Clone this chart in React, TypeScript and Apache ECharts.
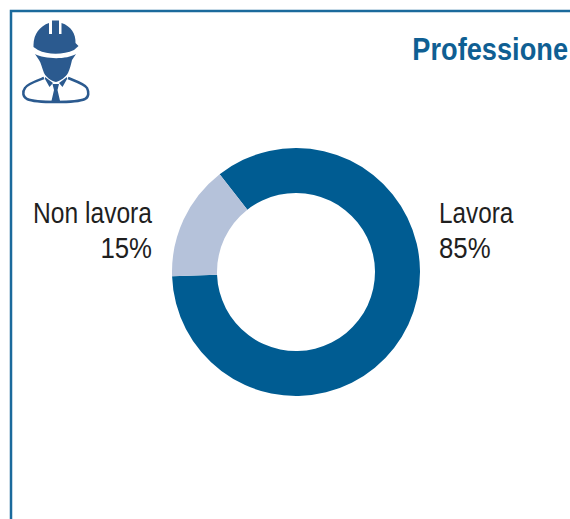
import React, { useEffect, useRef } from "react";
import * as echarts from "echarts";

const categories = ["Lavora", "Non lavora"];
const values = [85, 15];
const colors = ["#005c92", "#b5c2da"];
const titleText = "Professione";

const HELMET =
  "M33.5 45 C33.5 34 40 26 49 23 L49 34 L52 34 L52 20.5 L59 20.5 L59 34 L61.5 34 L61.5 23 C71 26 76 34 75.5 43 L78.5 46 L74 50 C63 55 48 55 38 50 L33.5 47 Z";
const FACE =
  "M35 54 C44 59 66 60 76 54 L72 60 C71 64 70 69 68 73 C66 77 60 81 56 82 C51 81 46 77 44 73 C42 68 41 63 39 60 Z";
const TIE = "M52.5 84 L59 84 L57.5 90 L60.5 103 L51 103 L54 90 Z";
const COLLAR =
  "M45 77 L53 83 L49.5 87 L45 79 Z M67 77 L59 83 L62.5 87 L67 79 Z";
const BODY =
  "M44 78 C36 81 27 84 25 88 C22 92 23 97 27 99 C36 103 76 103 85 99 C89 97 89 92 87 88 C85 84 75 81 68 78";

echarts.graphic.registerShape("helmet", echarts.graphic.extendPath(HELMET, {}));
echarts.graphic.registerShape("face", echarts.graphic.extendPath(FACE, {}));
echarts.graphic.registerShape("tie", echarts.graphic.extendPath(TIE, {}));
echarts.graphic.registerShape("collar", echarts.graphic.extendPath(COLLAR, {}));
echarts.graphic.registerShape("body", echarts.graphic.extendPath(BODY, {}));

const FONT = '"Liberation Sans", sans-serif';
const ICON = "#2b5a8f";
const FRAME = "#1b6a9c";

const textLine = (text: string, x: number, y: number, align: string, scaleX: number) => ({
  type: "text",
  x,
  y,
  scaleX,
  style: {
    text,
    align,
    verticalAlign: "middle",
    font: `30px ${FONT}`,
    fill: "#1f1f1f",
  },
});

export default function App() {
  const ref = useRef<HTMLDivElement>(null);
  useEffect(() => {
    const chart = echarts.init(ref.current!, undefined, { renderer: "svg" });
    chart.setOption({
      animation: false,
      backgroundColor: "#ffffff",
      series: [
        {
          type: "pie",
          center: [296, 272],
          radius: [79, 124],
          startAngle: 128,
          clockwise: true,
          silent: true,
          color: colors,
          data: categories.map((name, i) => ({ name, value: values[i] })),
          labelLine: { show: false },
          label: { show: false },
        },
      ],
      graphic: [
        {
          type: "polyline",
          shape: { points: [[11, 519], [11, 11], [570, 11]] },
          style: { stroke: FRAME, lineWidth: 2.5, fill: "none" },
        },
        {
          type: "text",
          x: 568,
          y: 49,
          scaleX: 0.85,
          style: {
            text: titleText,
            align: "right",
            verticalAlign: "middle",
            font: `bold 32px ${FONT}`,
            fill: "#0f5f93",
          },
        },
        textLine(categories[0], 439, 213, "left", 0.81),
        textLine(`${values[0]}%`, 439, 248, "left", 0.86),
        textLine(categories[1], 152, 213, "right", 0.82),
        textLine(`${values[1]}%`, 152, 248, "right", 0.86),
        { type: "helmet", style: { fill: ICON } },
        { type: "face", style: { fill: ICON } },
        { type: "collar", style: { fill: ICON } },
        { type: "tie", style: { fill: ICON } },
        { type: "body", style: { fill: "none", stroke: ICON, lineWidth: 2.5 } },
      ],
    });
    return () => chart.dispose();
  }, []);
  return (
    <div
      ref={ref}
      style={{ position: "fixed", left: 0, top: 0, width: 570, height: 519 }}
    />
  );
}
